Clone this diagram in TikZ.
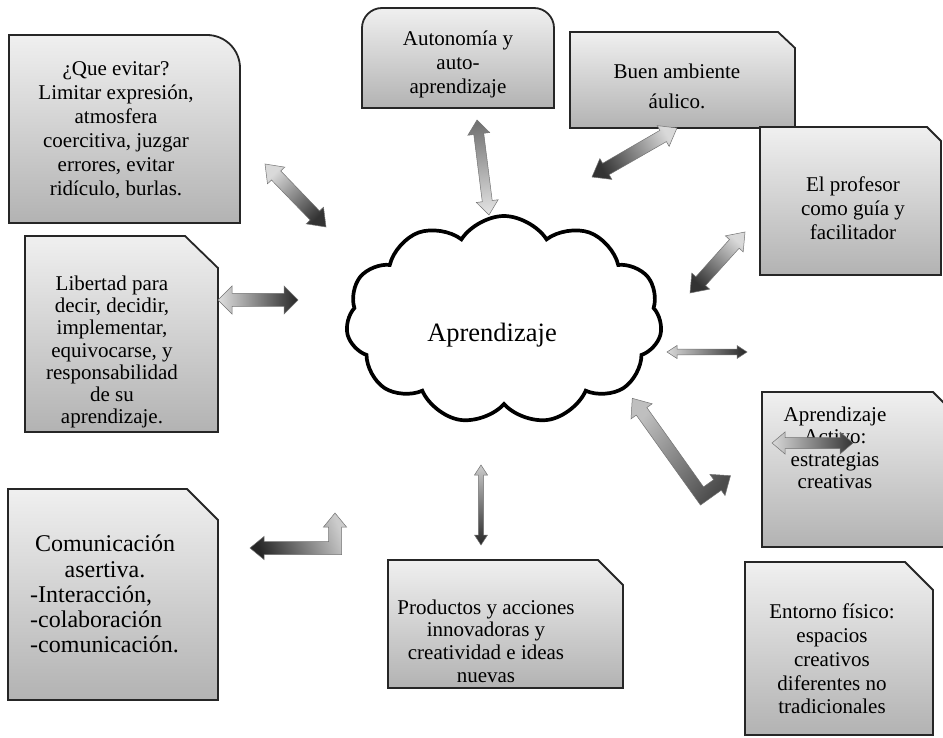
\documentclass[tikz,border=0pt]{standalone}
\usepackage{fontspec}
\setmainfont{Liberation Serif}
\usetikzlibrary{calc,shapes.symbols}
\tikzset{
  box/.style={draw=black!85, line width=1.8pt, top color=black!6, bottom color=black!30},
  txt/.style={font=\fontsize{21}{24}\selectfont, align=center, inner sep=0pt},
  arr/.style={draw=black!55, line width=0.5pt},
}
% #1 light tip, #2 dark tip, #3 shaft half width, #4 head half width, #5 head length, #6 light colour, #7 dark colour, #8 shading angle
\newcommand\dblarr[8]{%
  \shade[arr, left color=#6, right color=#7, shading angle=#8]
   (#1)
   -- ($(#1)!#5pt!(#2)!#4pt!90:(#2)$)
   -- ($(#1)!#5pt!(#2)!#3pt!90:(#2)$)
   -- ($(#2)!#5pt!(#1)!#3pt!-90:(#1)$)
   -- ($(#2)!#5pt!(#1)!#4pt!-90:(#1)$)
   -- (#2)
   -- ($(#2)!#5pt!(#1)!#4pt!90:(#1)$)
   -- ($(#2)!#5pt!(#1)!#3pt!90:(#1)$)
   -- ($(#1)!#5pt!(#2)!#3pt!-90:(#2)$)
   -- ($(#1)!#5pt!(#2)!#4pt!-90:(#2)$)
   -- cycle;}
\begin{document}
\begin{tikzpicture}[x=1pt,y=-1pt]
\useasboundingbox (0,0) rectangle (943,738);
\clip (0,0) rectangle (943,738);
\fill[white] (0,0) rectangle (943,738);

% ---------- boxes ----------
\draw[box] (9,223) -- (9,35) -- (207,35) arc[start angle=-90, end angle=0, radius=33] -- (240,223) -- cycle;
\draw[box] (362,108) -- (362,28) arc[start angle=180, end angle=270, radius=20] -- (534,8) arc[start angle=-90, end angle=0, radius=20] -- (554,108) -- cycle;
\draw[box] (570,128) -- (570,32) -- (778,32) -- (795,48) -- (795,128) -- cycle;
\draw[box] (760,275) -- (760,127) -- (927,127) -- (941,141) -- (941,275) -- cycle;
\draw[box] (762,547) -- (762,392) -- (933,392) -- (965,424) -- (965,547) -- cycle;
\draw[box] (745,735) -- (745,562) -- (905,562) -- (933,590) -- (933,735) -- cycle;
\draw[box] (25,432) -- (25,236) -- (185,236) -- (218,268) -- (218,432) -- cycle;
\draw[box] (8,700) -- (8,489) -- (187,489) -- (218,520) -- (218,700) -- cycle;
\draw[box] (388,688) -- (388,560) -- (598,560) -- (623,585) -- (623,688) -- cycle;

% ---------- cloud ----------
\node[cloud, cloud puffs=11, cloud puff arc=115, cloud ignores aspect, draw=black, line width=3.7pt,
      fill=white, minimum width=316pt, minimum height=208pt, inner sep=0pt] (nube) at (504,320) {};
\node[font=\fontsize{26.5}{30}\selectfont, inner sep=0pt] (aprend) at (492,335) {Aprendizaje};

% ---------- texts ----------
\node[txt] (evitar) at (116,130) {¿Que evitar?\\Limitar expresión,\\atmosfera\\coercitiva, juzgar\\errores, evitar\\ridículo, burlas.};
\node[txt] (auton) at (458,64) {Autonomía y\\auto-\\aprendizaje};
\node[txt] (buen) at (677,86) {Buen ambiente\\[6pt]áulico.};
\node[txt] (prof) at (853,208) {El profesor\\como guía y\\facilitador};
\node[txt, font=\fontsize{21}{22.5}\selectfont] (activo) at (835,448) {Aprendizaje\\Activo:\\estrategias\\creativas};
\node[txt, font=\fontsize{21}{23.8}\selectfont] (entorno) at (832,659) {Entorno físico:\\espacios\\creativos\\diferentes no\\tradicionales};
\node[txt, font=\fontsize{21}{22.2}\selectfont] (libertad) at (112,352) {Libertad para\\decir, decidir,\\implementar,\\equivocarse, y\\responsabilidad\\de su\\aprendizaje.};
\node[txt, font=\fontsize{24}{26}\selectfont] (comA) at (105,556) {Comunicación\\asertiva.};
\node[txt, font=\fontsize{24}{25}\selectfont, align=left, anchor=west] (comB) at (30,619) {-Interacción,\\-colaboración\\-comunicación.};
\node[txt, font=\fontsize{21}{22.7}\selectfont] (prod) at (486,641) {Productos y acciones\\innovadoras y\\creatividad e ideas\\nuevas};

% ---------- arrow ends ----------
\coordinate (a1l) at (265,164); \coordinate (a1d) at (326,227);
\coordinate (a2l) at (489,215); \coordinate (a2d) at (477,120);
\coordinate (a3l) at (677,128); \coordinate (a3d) at (592,177);
\coordinate (a4l) at (745,232); \coordinate (a4d) at (690,293);
\coordinate (a5l) at (667,352); \coordinate (a5d) at (747,352);
\coordinate (a7l) at (772,443); \coordinate (a7d) at (853,443);
\coordinate (a8l) at (218,300); \coordinate (a8d) at (298,300);
\coordinate (a9l) at (481,465); \coordinate (a9d) at (481,545);

% ---------- arrows ----------
\dblarr{a1l}{a1d}{6.5}{12}{16}{black!15}{black!80}{44}
\dblarr{a2l}{a2d}{5}{11}{14}{black!12}{black!55}{-173}
\dblarr{a3l}{a3d}{6.5}{12}{16}{black!15}{black!80}{-60}
\dblarr{a4l}{a4d}{6.5}{12}{16}{black!15}{black!80}{-42}
\dblarr{a5l}{a5d}{2.8}{6.5}{10}{black!15}{black!85}{90}
\dblarr{a7l}{a7d}{5.5}{11}{13}{black!15}{black!80}{90}
\dblarr{a8l}{a8d}{6.5}{14}{14}{black!12}{black!85}{90}
\dblarr{a9l}{a9d}{2.6}{6.5}{10}{black!20}{black!85}{0}

% bent arrow near "Aprendizaje Activo"
\begin{scope}[shift={(702,496)}, x={(-0.581pt,0.814pt)}, y={(0.814pt,0.581pt)}]
  \shade[arr, left color=black!70, right color=black!25, shading angle=-128]
   (-6.5,-6.5) -- (104,-6.5) -- (104,-13) -- (120,0) -- (104,13) -- (104,6.5)
   -- (6.5,6.5) -- (6.5,19) -- (13,19) -- (0,35) -- (-13,19) -- (-6.5,19) -- cycle;
\end{scope}
% bent arrow near "Comunicacion"
\begin{scope}[shift={(335,548)}, x={(-1pt,0pt)}, y={(0pt,1pt)}]
  \shade[arr, left color=black!20, right color=black!85, shading angle=-68]
   (-6.5,-6.5) -- (71,-6.5) -- (71,-11.5) -- (85,0) -- (71,11.5) -- (71,6.5)
   -- (6.5,6.5) -- (6.5,21) -- (11.5,21) -- (0,35) -- (-11.5,21) -- (-6.5,21) -- cycle;
\end{scope}
\end{tikzpicture}
\end{document}
